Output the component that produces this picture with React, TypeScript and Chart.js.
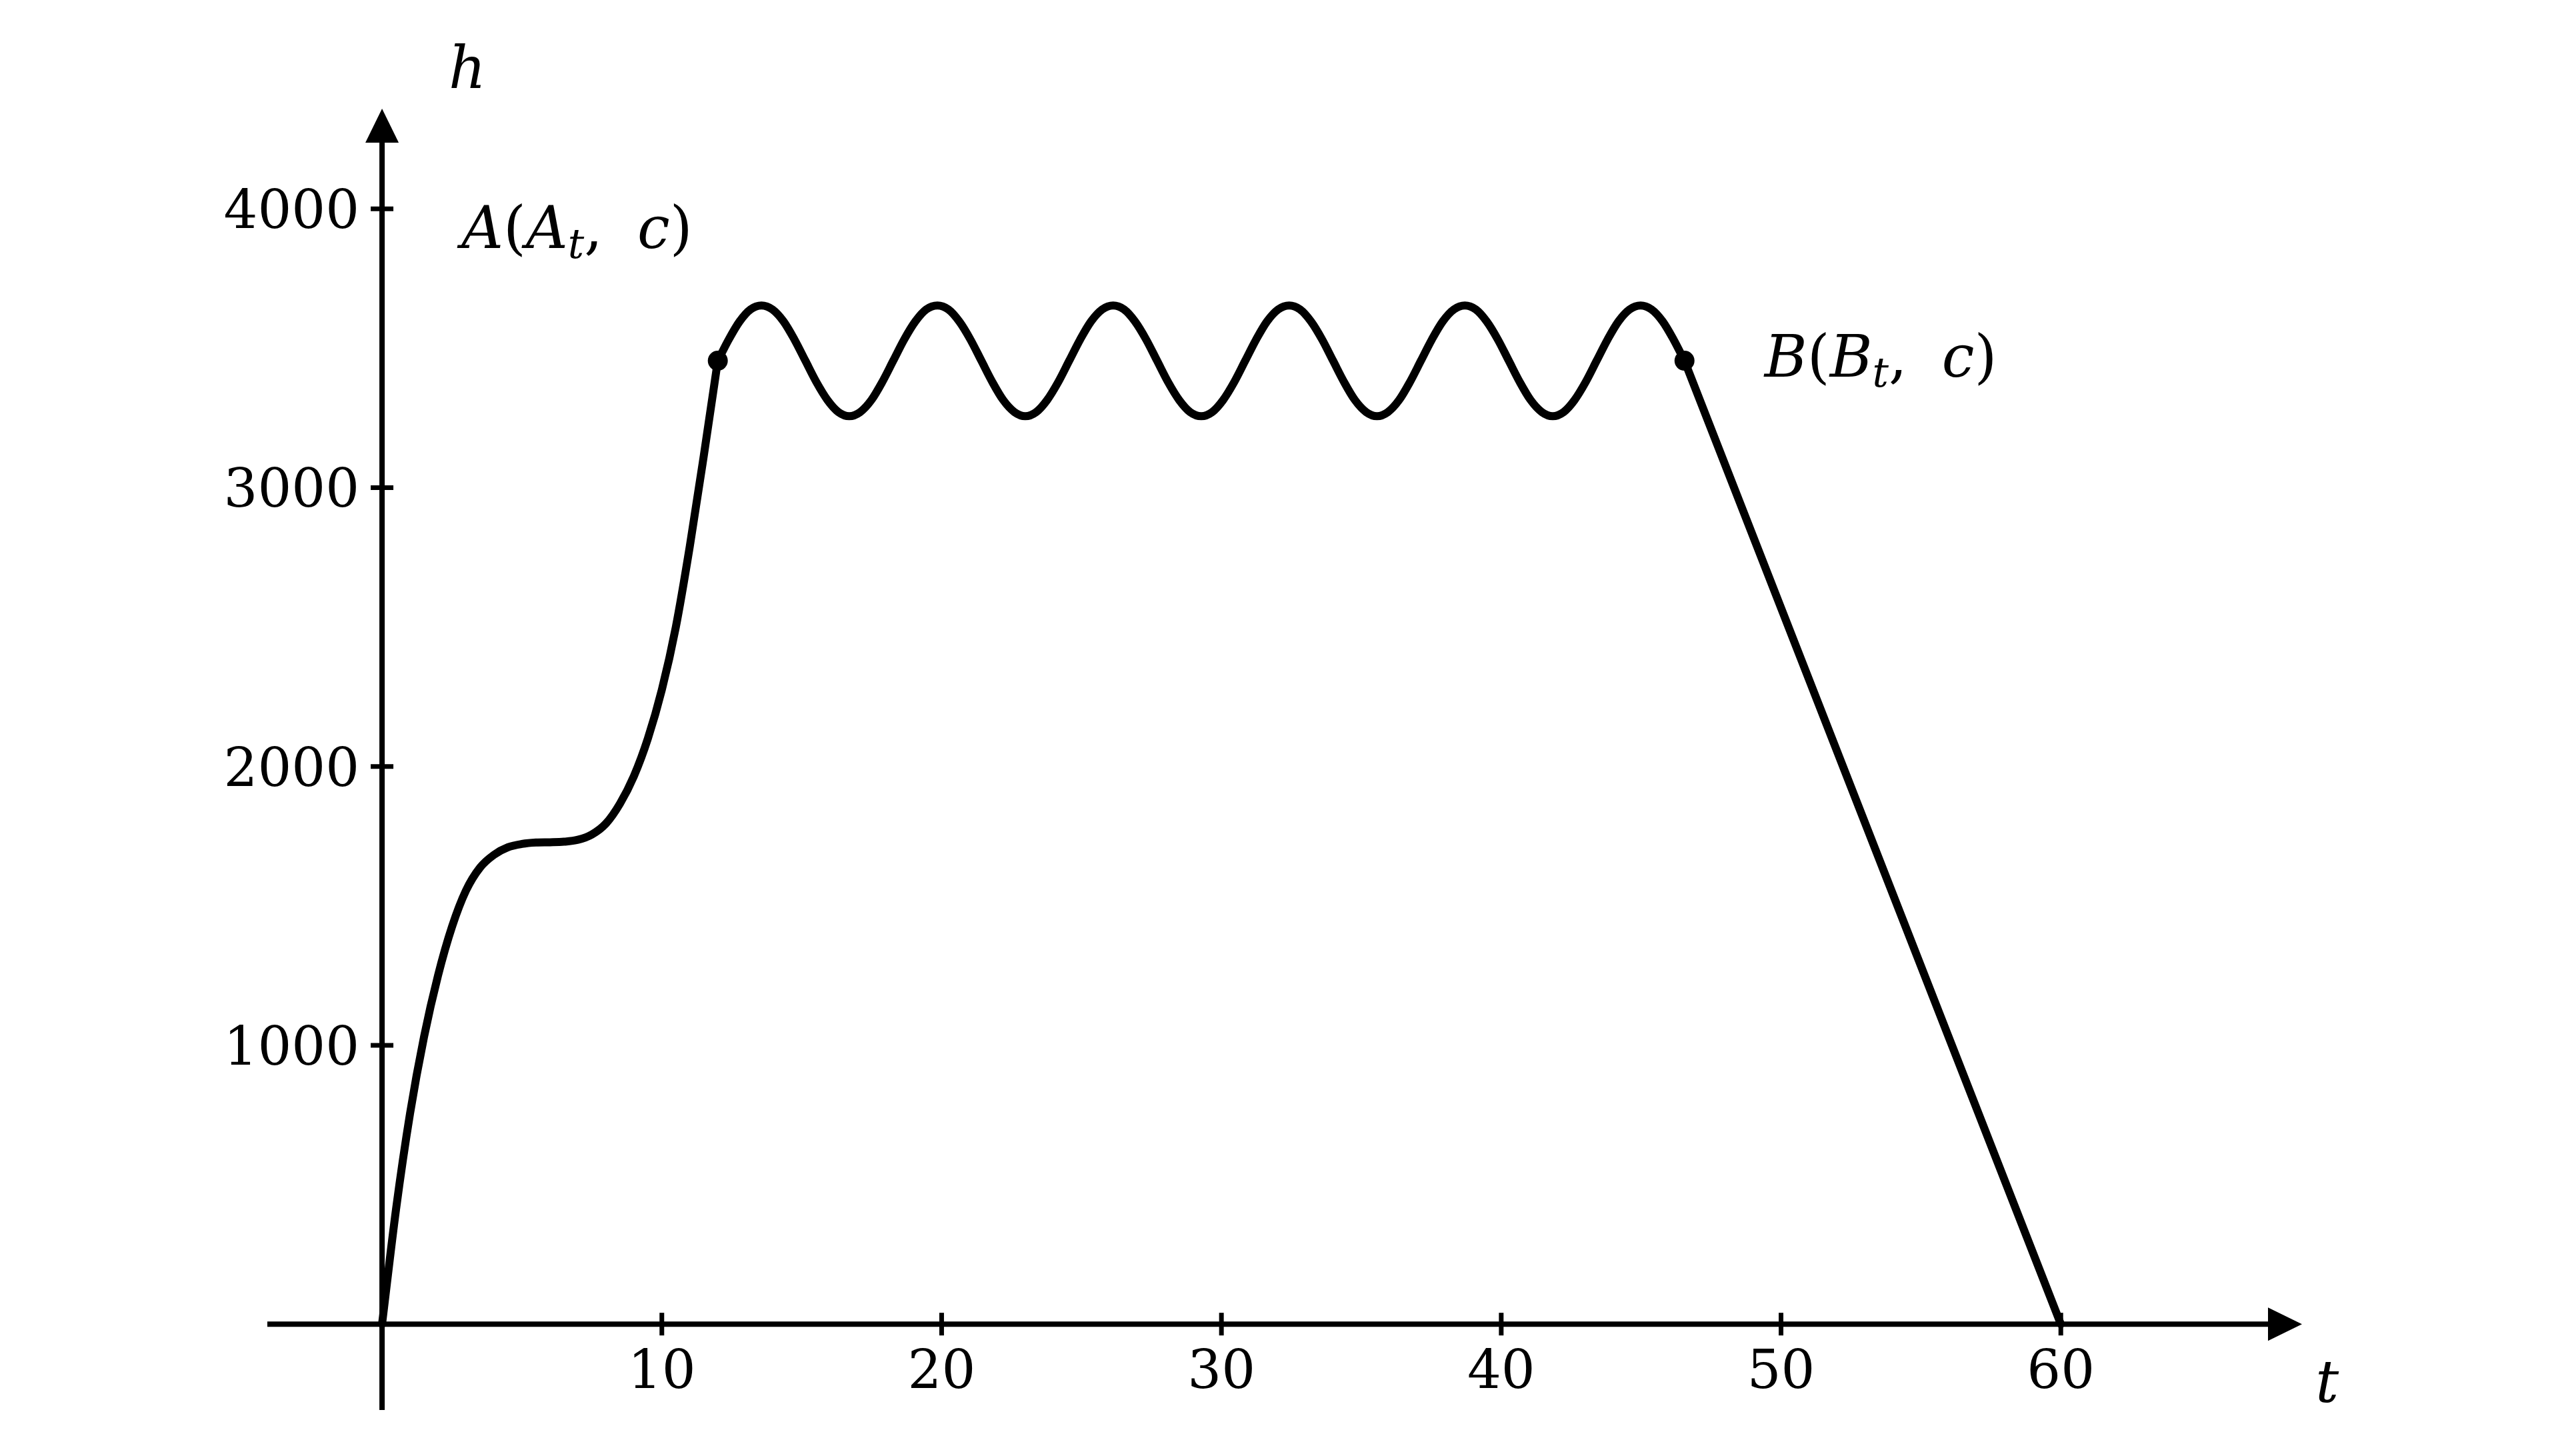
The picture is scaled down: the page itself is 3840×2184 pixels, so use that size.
import { useEffect, useRef } from "react";
import { Chart, registerables } from "chart.js";

Chart.register(...registerables);

// ---- data ----
const RISE_T = [0, 0.5, 1, 1.5, 2, 2.5, 3, 3.5, 4, 4.5, 5, 5.5, 6, 6.5, 7, 7.5, 8, 8.5, 9, 9.5, 10, 10.5, 11, 11.5, 12];
const RISE_H = [0, 412, 755, 1030, 1250, 1425, 1555, 1637, 1683, 1710, 1722, 1727, 1728, 1730, 1737, 1756, 1795, 1866, 1965, 2100, 2275, 2500, 2790, 3115, 3455];

const WAVE_T = [
  12.0, 12.39, 12.78, 13.17, 13.56, 13.95, 14.35, 14.74, 15.13, 15.52, 15.92, 16.31, 16.7, 17.09, 17.49, 17.88, 18.27,
  18.66, 19.06, 19.45, 19.85, 20.24, 20.63, 21.03, 21.42, 21.81, 22.2, 22.6, 22.99, 23.38, 23.77, 24.17, 24.56,
  24.95, 25.34, 25.74, 26.13, 26.52, 26.91, 27.31, 27.7, 28.09, 28.49, 28.88, 29.28, 29.67, 30.06, 30.46, 30.85,
  31.24, 31.63, 32.03, 32.42, 32.81, 33.2, 33.6, 33.99, 34.38, 34.77, 35.17, 35.56, 35.95, 36.35, 36.74, 37.13,
  37.52, 37.91, 38.31, 38.7, 39.09, 39.48, 39.88, 40.27, 40.66, 41.05, 41.45, 41.84, 42.23, 42.62, 43.02, 43.41,
  43.8, 44.19, 44.59, 44.98, 45.37, 45.77, 46.16, 46.55,
];
const WAVE_H = [
  3455, 3531, 3596, 3639, 3653, 3639, 3596, 3531, 3455, 3379, 3314, 3271, 3256, 3271, 3314, 3379, 3455,
  3531, 3596, 3639, 3653, 3639, 3596, 3531, 3455, 3379, 3314, 3271, 3256, 3271, 3314, 3379, 3455,
  3531, 3596, 3639, 3653, 3639, 3596, 3531, 3455, 3379, 3314, 3271, 3256, 3271, 3314, 3379, 3455,
  3531, 3596, 3639, 3653, 3639, 3596, 3531, 3455, 3379, 3314, 3271, 3256, 3271, 3314, 3379, 3455,
  3531, 3596, 3639, 3653, 3639, 3596, 3531, 3455, 3379, 3314, 3271, 3256, 3271, 3314, 3379, 3455,
  3531, 3596, 3639, 3653, 3639, 3596, 3531, 3455,
];

const DESC_T = [46.55, 60];
const DESC_H = [3455, 0];

const POINT_T = [12, 46.55];
const POINT_H = [3455, 3455];

const X_TICKS = [10, 20, 30, 40, 50, 60];
const Y_TICKS = [1000, 2000, 3000, 4000];

// axis ranges (the arrow tips / axis ends)
const X_MIN = -4.1;
const X_MAX = 68.62;
const Y_MIN = -308;
const Y_MAX = 4359;

// annotation anchors (data coordinates)
const LABEL_A = { t: 2.84, h: 3859 };
const LABEL_B = { t: 49.41, h: 3397 };
const LABEL_HAXIS = { t: 2.38, h: 4433 };
const LABEL_TAXIS = { t: 69.1, h: -280 };

const SERIF = "'DejaVu Serif', serif";

type Piece = { s?: string; italic?: boolean; sub?: boolean; gap?: number };

function drawMath(ctx: CanvasRenderingContext2D, x: number, y: number, size: number, pieces: Piece[]) {
  let cx = x;
  ctx.fillStyle = "#000";
  ctx.textAlign = "left";
  ctx.textBaseline = "alphabetic";
  for (const p of pieces) {
    if (p.gap) {
      cx += p.gap;
      continue;
    }
    const s = p.s || "";
    const fs = p.sub ? size * 0.7 : size;
    ctx.font = `${p.italic ? "italic " : ""}${fs}px ${SERIF}`;
    const dy = p.sub ? size * 0.17 : 0;
    ctx.fillText(s, cx, y + dy);
    cx += ctx.measureText(s).width;
  }
}

const axesPlugin = {
  id: "mathAxes",
  beforeDatasetsDraw(chart: any) {
    const ctx: CanvasRenderingContext2D = chart.ctx;
    const xs = chart.scales.x;
    const ys = chart.scales.y;
    const x0 = xs.getPixelForValue(0);
    const y0 = ys.getPixelForValue(0);
    const xL = xs.getPixelForValue(X_MIN);
    const xR = xs.getPixelForValue(X_MAX);
    const yB = ys.getPixelForValue(Y_MIN);
    const yT = ys.getPixelForValue(Y_MAX);
    const arrowLen = 51;
    const arrowHalf = 25;
    ctx.save();
    ctx.strokeStyle = "#000";
    ctx.fillStyle = "#000";
    ctx.lineWidth = 8;
    ctx.lineCap = "butt";
    // x axis
    ctx.beginPath();
    ctx.moveTo(xL, y0);
    ctx.lineTo(xR - arrowLen + 2, y0);
    ctx.stroke();
    ctx.beginPath();
    ctx.moveTo(xR, y0);
    ctx.lineTo(xR - arrowLen, y0 - arrowHalf);
    ctx.lineTo(xR - arrowLen, y0 + arrowHalf);
    ctx.closePath();
    ctx.fill();
    // y axis
    ctx.beginPath();
    ctx.moveTo(x0, yB);
    ctx.lineTo(x0, yT + arrowLen - 2);
    ctx.stroke();
    ctx.beginPath();
    ctx.moveTo(x0, yT);
    ctx.lineTo(x0 - arrowHalf, yT + arrowLen);
    ctx.lineTo(x0 + arrowHalf, yT + arrowLen);
    ctx.closePath();
    ctx.fill();
    // ticks
    ctx.lineWidth = 7;
    const tl = 17;
    for (const v of X_TICKS) {
      const px = xs.getPixelForValue(v);
      ctx.beginPath();
      ctx.moveTo(px, y0 - tl);
      ctx.lineTo(px, y0 + tl);
      ctx.stroke();
    }
    for (const v of Y_TICKS) {
      const py = ys.getPixelForValue(v);
      ctx.beginPath();
      ctx.moveTo(x0 - tl, py);
      ctx.lineTo(x0 + tl, py);
      ctx.stroke();
    }
    // tick labels
    ctx.font = `80px ${SERIF}`;
    ctx.textBaseline = "alphabetic";
    ctx.textAlign = "center";
    for (const v of X_TICKS) {
      const px = xs.getPixelForValue(v);
      ctx.fillText(String(v), px, y0 + 96);
    }
    ctx.textAlign = "right";
    for (const v of Y_TICKS) {
      const py = ys.getPixelForValue(v);
      ctx.fillText(String(v), x0 - 34, py + 29);
    }
    ctx.restore();
  },
  afterDraw(chart: any) {
    const ctx: CanvasRenderingContext2D = chart.ctx;
    const xs = chart.scales.x;
    const ys = chart.scales.y;
    ctx.save();
    const size = 87;
    drawMath(ctx, xs.getPixelForValue(LABEL_HAXIS.t), ys.getPixelForValue(LABEL_HAXIS.h), size, [{ s: "h", italic: true }]);
    drawMath(ctx, xs.getPixelForValue(LABEL_TAXIS.t), ys.getPixelForValue(LABEL_TAXIS.h), size, [{ s: "t", italic: true }]);
    drawMath(ctx, xs.getPixelForValue(LABEL_A.t), ys.getPixelForValue(LABEL_A.h), size, [
      { s: "A", italic: true },
      { s: "(" },
      { s: "A", italic: true },
      { s: "t", italic: true, sub: true },
      { s: "," },
      { gap: 52 },
      { s: "c", italic: true },
      { s: ")" },
    ]);
    drawMath(ctx, xs.getPixelForValue(LABEL_B.t), ys.getPixelForValue(LABEL_B.h), size, [
      { s: "B", italic: true },
      { s: "(" },
      { s: "B", italic: true },
      { s: "t", italic: true, sub: true },
      { s: "," },
      { gap: 52 },
      { s: "c", italic: true },
      { s: ")" },
    ]);
    ctx.restore();
  },
};

function pts(ts: number[], hs: number[]) {
  return ts.map((t, i) => ({ x: t, y: hs[i] }));
}

export default function App() {
  const ref = useRef<HTMLCanvasElement | null>(null);
  useEffect(() => {
    if (!ref.current) return;
    const lineStyle = {
      borderColor: "#000",
      borderWidth: 12,
      pointRadius: 0,
      fill: false,
      clip: false as const,
      borderCapStyle: "round" as const,
      borderJoinStyle: "round" as const,
    };
    const chart = new Chart(ref.current, {
      type: "line",
      data: {
        datasets: [
          { ...lineStyle, cubicInterpolationMode: "monotone" as const, data: pts(RISE_T, RISE_H) },
          { ...lineStyle, cubicInterpolationMode: "monotone" as const, data: pts(WAVE_T, WAVE_H) },
          { ...lineStyle, tension: 0, data: pts(DESC_T, DESC_H) },
          {
            type: "scatter" as const,
            data: pts(POINT_T, POINT_H),
            pointRadius: 15,
            pointBackgroundColor: "#000",
            pointBorderColor: "#000",
            pointBorderWidth: 0,
            showLine: false,
            clip: false as const,
          } as any,
        ],
      },
      options: {
        animation: false,
        responsive: true,
        maintainAspectRatio: false,
        devicePixelRatio: 1,
        layout: { padding: { left: 401, right: 387, top: 163, bottom: 69 } },
        plugins: { legend: { display: false }, tooltip: { enabled: false } },
        events: [],
        scales: {
          x: { type: "linear", min: X_MIN, max: X_MAX, display: false },
          y: { type: "linear", min: Y_MIN, max: Y_MAX, display: false },
        },
      },
      plugins: [axesPlugin],
    });
    return () => chart.destroy();
  }, []);
  return (
    <div style={{ position: "fixed", left: 0, top: 0, width: 3840, height: 2184, background: "#fff" }}>
      <canvas ref={ref} />
    </div>
  );
}
